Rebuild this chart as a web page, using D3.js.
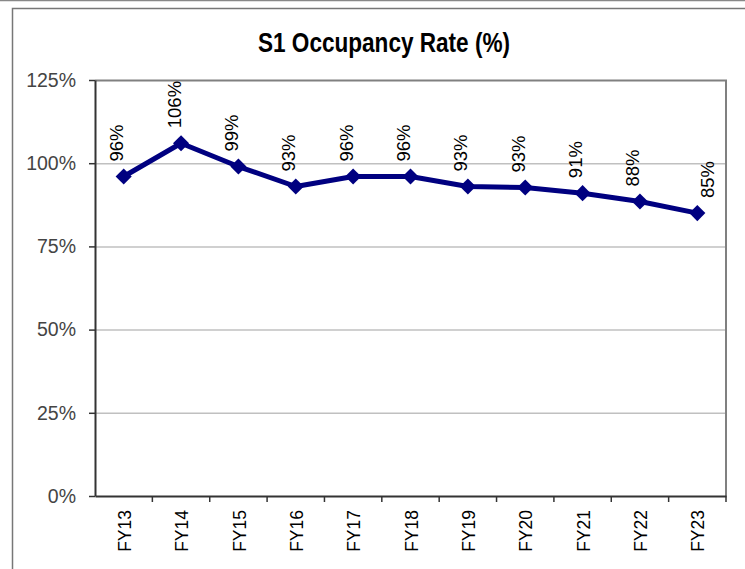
<!DOCTYPE html>
<html>
<head>
<meta charset="utf-8">
<script src="https://cdn.jsdelivr.net/npm/d3@7"></script>
<style>
  html, body { margin: 0; padding: 0; background: #fff; }
  svg { display: block; }
</style>
</head>
<body>
<div id="chart"></div>
<script>
// Chart data
const years = ["FY13", "FY14", "FY15", "FY16", "FY17", "FY18", "FY19", "FY20", "FY21", "FY22", "FY23"];
const occupancy = [96, 106, 99, 93, 96, 96, 93, 92.7, 91, 88.5, 85];
const occupancyLabels = ["96%", "106%", "99%", "93%", "96%", "96%", "93%", "93%", "91%", "88%", "85%"];
const yTicks = [0, 25, 50, 75, 100, 125];

const width = 745, height = 569;
const margin = { top: 80, right: 19, bottom: 73, left: 95 };
const labelFont = "'Liberation Sans', Arial, sans-serif";

const svg = d3.select("#chart").append("svg")
    .attr("width", width)
    .attr("height", height);

// outer chart frame
svg.append("line").attr("x1", 0).attr("x2", width).attr("y1", 0.5).attr("y2", 0.5)
    .attr("stroke", "#888").attr("stroke-width", 1.5);
svg.append("rect")
    .attr("x", 12.5).attr("y", 8.5)
    .attr("width", width).attr("height", height)
    .attr("fill", "none").attr("stroke", "#777").attr("stroke-width", 1.5);

const x = d3.scaleBand()
    .domain(years)
    .range([margin.left, width - margin.right]);

const y = d3.scaleLinear()
    .domain([0, 125])
    .range([height - margin.bottom, margin.top]);

// title (condensed bold)
svg.append("text")
    .attr("x", 258).attr("y", 52)
    .attr("textLength", 252)
    .attr("lengthAdjust", "spacingAndGlyphs")
    .attr("font-family", labelFont)
    .attr("font-weight", "bold")
    .attr("font-size", 27)
    .attr("fill", "#000")
    .text("S1 Occupancy Rate (%)");

// gridlines
svg.append("g")
    .selectAll("line")
    .data(yTicks.filter(t => t > 0 && t < 125))
    .join("line")
    .attr("x1", margin.left).attr("x2", width - margin.right)
    .attr("y1", d => y(d) + 0.5).attr("y2", d => y(d) + 0.5)
    .attr("stroke", "#c0c0c0").attr("stroke-width", 1.5);

// plot frame top / right
svg.append("path")
    .attr("d", `M${margin.left},${y(125) + 0.5}H${width - margin.right}V${y(0)}`)
    .attr("fill", "none").attr("stroke", "#808080").attr("stroke-width", 2);

// y axis
const yAxis = svg.append("g")
    .attr("transform", `translate(${margin.left},0)`)
    .call(d3.axisLeft(y).tickValues(yTicks).tickSize(6).tickSizeOuter(0).tickFormat(d => d + "%"));
yAxis.select(".domain").attr("stroke", "#333").attr("stroke-width", 2);
yAxis.selectAll(".tick line").attr("stroke", "#333").attr("stroke-width", 1.5);
yAxis.selectAll(".tick text")
    .attr("x", -19)
    .attr("fill", "#444")
    .attr("font-family", labelFont)
    .attr("font-size", 19.5);

// x axis
const xAxis = svg.append("g")
    .attr("transform", `translate(0,${y(0)})`)
    .call(d3.axisBottom(x).tickSize(0).tickSizeOuter(0));
xAxis.select(".domain").attr("stroke", "#333").attr("stroke-width", 2);
xAxis.selectAll(".tick text")
    .attr("transform", "rotate(-90)")
    .attr("x", -14).attr("y", 1).attr("dy", "0.35em")
    .attr("text-anchor", "end")
    .attr("fill", "#000")
    .attr("font-family", labelFont)
    .attr("font-size", 17.5);

// x tick marks at band boundaries
svg.append("g")
    .selectAll("line")
    .data(years)
    .join("line")
    .attr("x1", d => x(d) + x.bandwidth())
    .attr("x2", d => x(d) + x.bandwidth())
    .attr("y1", y(0)).attr("y2", y(0) + 6)
    .attr("stroke", "#333").attr("stroke-width", 1.5);

const cx = d => x(d) + x.bandwidth() / 2;

// line
const line = d3.line()
    .x((d, i) => cx(years[i]))
    .y(d => y(d));

svg.append("path")
    .datum(occupancy)
    .attr("d", line)
    .attr("fill", "none")
    .attr("stroke", "#000080")
    .attr("stroke-width", 5)
    .attr("stroke-linejoin", "round");

// diamond markers
svg.append("g")
    .selectAll("path")
    .data(occupancy)
    .join("path")
    .attr("transform", (d, i) => `translate(${cx(years[i])},${y(d)})`)
    .attr("d", d3.symbol(d3.symbolDiamond2, 165)())
    .attr("fill", "#000080");

// data labels
svg.append("g")
    .selectAll("text")
    .data(occupancy)
    .join("text")
    .attr("transform", (d, i) => {
        const shift = i === years.length - 1 ? 10 : -7;
        return `translate(${cx(years[i]) + shift},${y(d) - 15}) rotate(-90)`;
    })
    .attr("dy", "0.35em")
    .attr("text-anchor", "start")
    .attr("fill", "#000")
    .attr("font-family", labelFont)
    .attr("font-size", 18.5)
    .text((d, i) => occupancyLabels[i]);
</script>
</body>
</html>
